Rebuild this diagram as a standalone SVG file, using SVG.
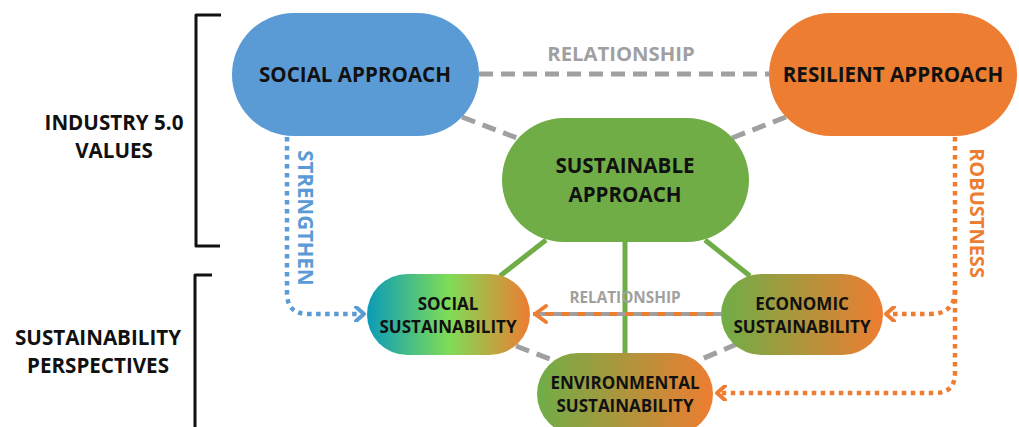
<svg xmlns="http://www.w3.org/2000/svg" width="1019" height="427" viewBox="0 0 1019 427">
<style>
.lbl{font-family:"Open Sans","Liberation Sans",sans-serif;font-weight:700;fill:#111;text-anchor:middle}
.big{font-size:20.6px}
.small{font-size:17px}
.gray{fill:none;stroke:#a0a0a0;stroke-width:5;stroke-dasharray:14 8}
.green{fill:none;stroke:#70ad47;stroke-width:5}
.bdot{fill:none;stroke:#5b9bd5;stroke-width:4.5;stroke-dasharray:4.5 4.5}
.odot{fill:none;stroke:#ed7d31;stroke-width:4.5;stroke-dasharray:4.5 4.5}
.bracket{fill:none;stroke:#111;stroke-width:3;stroke-linejoin:round}
</style>
<defs>
<linearGradient id="gSoc" x1="0" y1="0" x2="1" y2="0">
<stop offset="0" stop-color="#0b9bb8"/>
<stop offset="0.5" stop-color="#7fdc57"/>
<stop offset="1" stop-color="#ed7d31"/>
</linearGradient>
<linearGradient id="gGO" x1="0" y1="0" x2="1" y2="0">
<stop offset="0" stop-color="#70ad47"/>
<stop offset="1" stop-color="#ed7d31"/>
</linearGradient>
<marker id="aO" viewBox="0 0 12 16" refX="10" refY="8" markerWidth="12" markerHeight="16" markerUnits="userSpaceOnUse" orient="auto">
<polyline points="2,1 10,8 2,15" fill="none" stroke="#ed7d31" stroke-width="4" stroke-linecap="round" stroke-linejoin="round"/>
</marker>
<marker id="aB" viewBox="0 0 12 16" refX="10" refY="8" markerWidth="12" markerHeight="16" markerUnits="userSpaceOnUse" orient="auto">
<polyline points="2,1 10,8 2,15" fill="none" stroke="#5b9bd5" stroke-width="4" stroke-linecap="round" stroke-linejoin="round"/>
</marker>
</defs>

<g id="brackets">
<path class="bracket" d="M221,15 H196 V246 H220"/>
<path class="bracket" d="M212,275 H195 V430"/>
<text class="lbl big" x="114" y="130">INDUSTRY 5.0</text>
<text class="lbl big" x="114" y="158">VALUES</text>
<text class="lbl big" x="98" y="345">SUSTAINABILITY</text>
<text class="lbl big" x="98" y="373">PERSPECTIVES</text>
</g>

<g id="connectors">
<line class="gray" x1="479" y1="74" x2="769" y2="74"/>
<text class="lbl" x="621" y="61" style="font-size:20.3px;fill:#a0a0a0">RELATIONSHIP</text>
<line class="gray" x1="462" y1="117" x2="517" y2="138"/>
<line class="gray" x1="786" y1="117" x2="732" y2="138"/>
<line class="green" x1="546" y1="240" x2="500" y2="276"/>
<line class="green" x1="625" y1="242" x2="625" y2="354"/>
<line class="green" x1="705" y1="240" x2="750" y2="276"/>
<line class="gray" x1="516" y1="346" x2="555" y2="361"/>
<line class="gray" x1="737" y1="344" x2="697" y2="361"/>
<line x1="721" y1="314" x2="533" y2="314" fill="none" stroke="#a0a0a0" stroke-width="4" stroke-dasharray="8 8"/>
<line x1="713" y1="314" x2="533" y2="314" fill="none" stroke="#ed7d31" stroke-width="4" stroke-dasharray="8 8"/>
<polyline points="546,306 535,314 546,322" fill="none" stroke="#ed7d31" stroke-width="4" stroke-linecap="round" stroke-linejoin="round"/>
<text class="lbl" x="625" y="303" style="font-size:15.3px;fill:#a0a0a0">RELATIONSHIP</text>
<path class="bdot" d="M287,137 V293 Q287,314 308,314 H364" marker-end="url(#aB)"/>
<text class="lbl" transform="translate(305,218) rotate(90)" y="7" style="font-size:20.5px;fill:#5b9bd5">STRENGTHEN</text>
<path class="odot" d="M955,137 V373 Q955,393 935,393 H717" marker-end="url(#aO)"/>
<path class="odot" d="M955,290 Q955,314 930,314 H886" marker-end="url(#aO)"/>
<text class="lbl" transform="translate(977,213) rotate(90)" y="7" style="font-size:20px;fill:#ed7d31">ROBUSTNESS</text>
</g>

<g id="social-approach">
<rect x="232" y="13" width="247" height="123" rx="61.5" fill="#5b9bd5"/>
<text class="lbl big" x="355" y="82">SOCIAL APPROACH</text>
</g>
<g id="resilient-approach">
<rect x="769" y="13" width="248" height="123" rx="61.5" fill="#ed7d31"/>
<text class="lbl big" x="893" y="82">RESILIENT APPROACH</text>
</g>
<g id="sustainable-approach">
<rect x="502" y="118" width="247" height="124" rx="62" fill="#70ad47"/>
<text class="lbl big" x="625" y="173">SUSTAINABLE</text>
<text class="lbl big" x="625" y="202">APPROACH</text>
</g>
<g id="social-sustainability">
<rect x="367" y="274" width="163" height="81" rx="40.5" fill="url(#gSoc)"/>
<text class="lbl small" x="448" y="310">SOCIAL</text>
<text class="lbl small" x="448" y="333">SUSTAINABILITY</text>
</g>
<g id="economic-sustainability">
<rect x="721" y="274" width="162" height="81" rx="40.5" fill="url(#gGO)"/>
<text class="lbl small" x="802" y="310">ECONOMIC</text>
<text class="lbl small" x="802" y="333">SUSTAINABILITY</text>
</g>
<g id="environmental-sustainability">
<rect x="537" y="353" width="176" height="82" rx="41" fill="url(#gGO)"/>
<text class="lbl small" x="625" y="389">ENVIRONMENTAL</text>
<text class="lbl small" x="625" y="412">SUSTAINABILITY</text>
</g>
</svg>
